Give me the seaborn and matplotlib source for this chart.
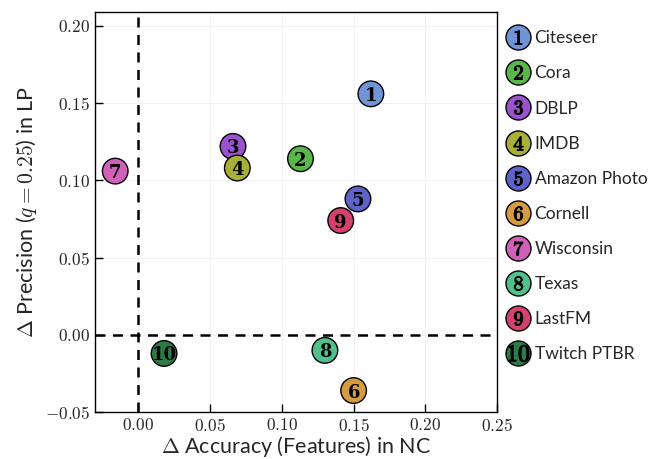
import matplotlib
matplotlib.use("Agg")
import matplotlib.pyplot as plt
import seaborn as sns
import pandas as pd
from matplotlib.lines import Line2D
from matplotlib.ticker import FuncFormatter, MultipleLocator

names = ["Citeseer", "Cora", "DBLP", "IMDB", "Amazon Photo", "Cornell",
         "Wisconsin", "Texas", "LastFM", "Twitch PTBR"]
ids = [1, 2, 3, 4, 5, 6, 7, 8, 9, 10]
delta_acc = [0.162, 0.113, 0.066, 0.069, 0.153, 0.150, -0.016, 0.130, 0.141, 0.018]
delta_prec = [0.156, 0.114, 0.122, 0.108, 0.088, -0.036, 0.106, -0.010, 0.074, -0.012]
colors = ["#6f95d6", "#5ab84a", "#9b52cf", "#a8b035", "#5d63c8", "#d49c3f",
          "#d060b8", "#52c08a", "#d6416f", "#2e7a45"]

df = pd.DataFrame({"name": names, "id": ids, "x": delta_acc, "y": delta_prec})

sns.set_style("white")
plt.rcParams["mathtext.fontset"] = "cm"
plt.rcParams["font.family"] = ["Lato", "DejaVu Sans"]

fig = plt.figure(figsize=(6.56, 4.59), dpi=100)
ax = fig.add_axes([0.145, 0.102, 0.613, 0.872])

ax.grid(True, color="#f2f2f2", lw=0.8, zorder=0)
ax.axvline(0, color="black", ls=(0, (4, 3)), lw=1.8, zorder=1)
ax.axhline(0, color="black", ls=(0, (4, 3)), lw=1.8, zorder=1)

sns.scatterplot(data=df, x="x", y="y", hue="name", palette=colors, s=340,
                edgecolor="black", linewidth=1.0, legend=False, ax=ax, zorder=3)
for _, r in df.iterrows():
    ax.text(r["x"], r["y"], f"{r['id']}", ha="center", va="center_baseline",
            fontsize=13, fontweight="bold", color="black", zorder=4,
            family=["DejaVu Serif"])

ax.set_xlim(-0.03, 0.25)
ax.set_ylim(-0.05, 0.209)
ax.xaxis.set_major_locator(MultipleLocator(0.05))
ax.yaxis.set_major_locator(MultipleLocator(0.05))
fmt = FuncFormatter(lambda v, p: f"${v:.2f}$")
ax.xaxis.set_major_formatter(fmt)
ax.yaxis.set_major_formatter(fmt)
ax.tick_params(axis="both", direction="in", length=6, width=1, labelsize=12.5,
               bottom=True, left=True, color="black")
for sp in ax.spines.values():
    sp.set_color("black")
    sp.set_linewidth(1.0)

ax.set_xlabel(r"$\Delta$ Accuracy (Features) in NC", fontsize=15.5, labelpad=0)
ax.set_ylabel(r"$\Delta$ Precision ($q=0.25$) in LP", fontsize=15.5, labelpad=4)

handles = []
for c, i in zip(colors, ids):
    circ = Line2D([], [], ls="", marker="o", ms=18, mfc=c, mec="black", mew=1.0)
    num = Line2D([], [], ls="", marker=f"$\\mathbf{{{i}}}$",
                 ms=10 if i < 10 else 15, color="black", mew=0.8)
    handles.append((circ, num))
ax.legend(handles, names, loc="upper left", bbox_to_anchor=(1.0, 0.98),
          frameon=False, fontsize=12.5, handlelength=1.2, handletextpad=0.35,
          labelspacing=1.1, borderaxespad=0.2)

fig.savefig("out.png", dpi=100)
